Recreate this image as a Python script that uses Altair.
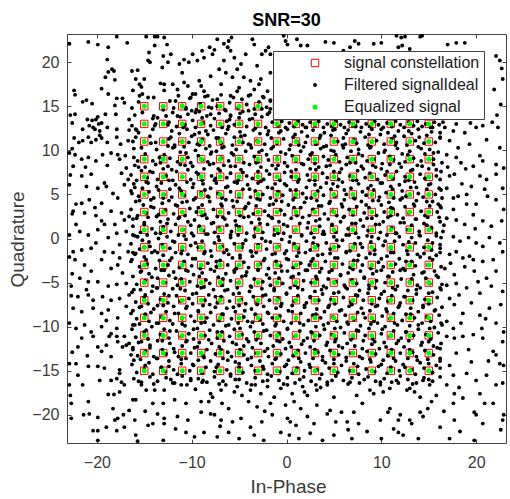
import altair as alt
import pandas as pd

# ---------------- data ----------------
levels = [-15, -13, -11, -9, -7, -5, -3, -1, 1, 3, 5, 7, 9, 11, 13, 15]

series_names = ["\u00a0signal constellation", "Filtered signalIdeal", "Equalized signal"]
series_fill = ["transparent", "#000000", "#00ff00"]
series_stroke = ["#ff0000", "transparent", "transparent"]
series_shape = ["square", "circle", "circle"]
series_size = [55, 15, 26]

x_ticks = [-20, -10, 0, 10, 20]
y_ticks = [-20, -15, -10, -5, 0, 5, 10, 15, 20]

# Filtered signal (black dots), read region by region from the picture
filtered_top_left = [
    (-22.9, 22.1), (-20.9, 22.3), (-19.9, 22.0), (-17.9, 22.9), (-16.8, 22.2), (-14.8, 22.9), (-13.9, 22.9),
    (-13.6, 22.9), (-12.9, 22.8), (-12.6, 22.0), (-18.8, 21.7), (-13.9, 21.9), (-14.5, 21.1), (-13.0, 20.7),
    (-18.9, 20.3), (-14.6, 20.2), (-14.4, 20.0), (-12.5, 20.0), (-18.4, 19.2), (-18.8, 18.9), (-18.2, 19.0),
    (-18.1, 18.0), (-19.1, 18.3), (-16.3, 19.0), (-15.7, 19.1), (-15.0, 18.1), (-15.9, 18.1), (-13.1, 19.4),
    (-12.9, 17.5), (-13.3, 17.6), (-22.4, 16.8), (-22.3, 16.3), (-19.5, 17.0), (-18.8, 16.4), (-17.9, 15.9),
    (-17.3, 15.9), (-16.2, 16.8), (-15.5, 17.5), (-15.3, 17.2), (-15.5, 16.2), (-15.6, 15.5), (-15.2, 16.4),
    (-14.6, 16.0), (-14.0, 16.0), (-12.9, 16.8), (-21.5, 15.5), (-21.1, 15.7), (-20.5, 15.3), (-18.1, 15.1),
    (-17.1, 15.4), (-16.3, 14.8), (-22.3, 14.1), (-21.0, 13.5), (-20.5, 13.4), (-20.1, 13.5), (-19.9, 13.8),
    (-19.5, 13.1), (-19.1, 14.1), (-18.0, 14.1), (-16.6, 13.5), (-16.0, 14.0), (-14.0, 13.9), (-13.6, 13.7),
    (-12.7, 13.9), (-22.6, 13.1), (-21.5, 12.4), (-20.8, 12.8), (-20.4, 12.6), (-20.2, 12.4), (-19.8, 13.0),
    (-19.7, 12.2), (-18.9, 12.6), (-17.9, 12.4), (-16.6, 12.3), (-15.9, 12.4), (-15.6, 12.0), (-16.3, 12.8),
    (-14.1, 12.4), (-13.8, 13.0), (-12.5, 12.9), (-22.4, 11.4), (-21.9, 10.9), (-21.5, 11.1), (-20.9, 11.5),
    (-20.6, 10.9), (-20.1, 11.2), (-19.7, 11.7), (-19.5, 11.4), (-18.9, 10.9), (-17.9, 11.5), (-17.5, 10.7),
    (-16.7, 11.1), (-16.2, 11.0), (-15.9, 11.5), (-15.3, 10.3), (-13.8, 10.9), (-13.7, 10.1), (-12.5, 10.5),
    (-22.6, 10.2), (-22.9, 9.7), (-22.3, 9.5), (-21.6, 9.0), (-20.9, 9.2), (-20.1, 8.8), (-19.4, 9.5),
    (-18.5, 9.7), (-17.8, 9.5), (-17.6, 9.0), (-17.0, 9.4), (-16.1, 9.2), (-15.7, 8.8), (-14.1, 8.8),
    (-13.4, 9.2), (-22.8, 14.0), (-22.5, 8.2), (-21.2, 8.1), (-18.9, 8.3), (-16.9, 8.0),
]

filtered_top = [
    (-5.8, 22.8), (-6.1, 22.4), (-6.6, 22.1), (-7.3, 22.6), (-8.1, 21.7), (-8.9, 21.3), (-9.9, 20.9),
    (-10.8, 20.3), (-12.2, 20.9), (-11.3, 19.8), (-10.3, 20.0), (-9.4, 20.2), (-8.7, 20.5), (-7.8, 20.9),
    (-7.6, 21.4), (-6.2, 21.7), (-5.9, 21.3), (-6.6, 20.2), (-5.5, 20.5), (-4.8, 19.8), (-4.3, 20.9),
    (-3.6, 22.6), (-3.4, 22.0), (-2.2, 21.3), (-2.6, 20.9), (-1.9, 21.7), (-1.7, 20.9), (-0.3, 23.0),
    (-0.1, 22.4), (0.1, 22.0), (1.1, 22.6), (1.5, 21.9), (2.2, 21.9), (4.1, 22.3), (5.0, 22.2),
    (-11.0, 18.8), (-10.8, 17.7), (-10.4, 17.3), (-9.2, 17.9), (-9.0, 17.3), (-8.7, 16.7), (-8.0, 18.4),
    (-7.1, 19.2), (-6.9, 17.5), (-6.4, 18.8), (-5.7, 18.3), (-5.2, 16.7), (-5.0, 17.1), (-4.5, 18.3),
    (-3.8, 17.9), (-3.4, 16.9), (-2.9, 17.5), (-2.7, 18.1), (-2.0, 16.7), (-1.7, 18.8), (-3.1, 19.6),
    (-5.2, 19.2), (-11.5, 16.9), (-12.0, 17.5), (-10.1, 16.0), (-9.6, 16.4), (-8.3, 16.2), (-7.3, 15.8),
    (-5.9, 16.2), (-4.0, 16.2), (-2.4, 16.0), (-1.7, 15.6), (-11.7, 15.6), (-10.6, 14.8), (-9.6, 14.3),
    (-8.0, 14.1), (-6.4, 14.5), (-5.9, 13.9), (-4.0, 14.5), (-2.0, 14.1), (-1.7, 14.7),
]

filtered_top_right = [
    (7.2, 22.4), (7.6, 22.1), (9.2, 22.1), (10.0, 22.2), (11.6, 23.0), (12.1, 22.8), (12.5, 22.9),
    (14.1, 22.9), (14.3, 23.0), (11.8, 21.7), (12.2, 21.9), (13.0, 21.5), (17.0, 22.0), (17.9, 22.2),
    (18.8, 22.2), (22.1, 20.7), (22.5, 20.2), (6.7, 21.7), (6.0, 21.3), (22.8, 18.1), (21.9, 16.9),
    (22.6, 15.2), (22.2, 14.0), (22.7, 19.3), (16.7, 12.6), (17.6, 12.2), (17.9, 13.0), (18.8, 12.0),
    (20.0, 12.6), (20.7, 12.8), (22.3, 12.6), (16.2, 11.4), (17.2, 11.1), (18.1, 10.3), (19.3, 10.7),
    (21.1, 11.2), (22.5, 10.3), (16.9, 9.5), (17.9, 9.2), (18.4, 8.6), (19.7, 8.2), (20.4, 9.4),
    (20.7, 8.8), (22.1, 8.4), (22.9, 8.0), (21.7, 13.2), (19.4, 13.1), (16.5, 13.2),
]

filtered_right = [
    (16.2, 6.7), (17.2, 7.1), (17.7, 7.3), (16.9, 5.7), (17.6, 4.6), (18.1, 4.8), (19.0, 5.0),
    (19.5, 5.9), (20.4, 7.1), (21.1, 6.7), (22.1, 7.3), (22.8, 5.7), (22.1, 4.4), (21.2, 4.8),
    (20.0, 3.9), (19.0, 3.9), (17.6, 3.3), (16.2, 3.7), (16.9, 2.3), (17.9, 2.1), (18.8, 1.6),
    (19.7, 2.7), (20.7, 2.0), (21.6, 1.4), (22.7, 2.0), (22.9, 3.3), (16.5, 0.8), (17.6, 0.2),
    (18.3, -0.3), (19.2, 0.1), (20.0, -0.5), (20.7, -0.9), (21.4, 0.1), (22.5, -0.5), (16.2, -1.1),
    (17.2, -1.8), (17.9, -1.5), (18.6, -2.2), (19.3, -2.0), (19.7, -2.4), (20.7, -2.6), (21.8, -2.4),
    (22.8, -1.5), (16.7, -3.4), (17.7, -4.1), (18.8, -3.2), (19.8, -3.7), (21.1, -4.5), (22.1, -3.7),
    (16.9, -5.3), (17.9, -5.1), (19.0, -5.6), (20.4, -6.2), (21.6, -5.4), (22.8, -6.0), (17.2, -6.8),
    (17.7, -7.5), (18.6, -8.5), (19.5, -7.3), (20.4, -8.7), (21.4, -7.9), (22.6, -7.5), (16.9, -9.4),
    (17.6, -10.2), (18.4, -9.6), (19.7, -10.9), (20.6, -10.2), (22.1, -9.6), (22.9, -10.6), (18.5, 6.2),
    (20.9, 5.6), (16.6, 1.5), (19.9, 1.1), (17.3, -2.8), (20.2, -4.9), (18.2, -6.4), (16.4, -7.8),
    (21.0, -9.1), (18.9, 7.9), (17.0, 8.1),
]

filtered_left = [
    (-22.9, 6.1), (-21.6, 7.1), (-20.6, 7.3), (-21.1, 5.9), (-19.9, 5.7), (-19.2, 6.3), (-19.0, 5.9),
    (-17.8, 4.6), (-16.7, 6.7), (-17.1, 6.1), (-16.4, 5.4), (-22.2, 3.9), (-21.6, 4.0), (-20.8, 4.4),
    (-20.2, 3.5), (-19.5, 4.0), (-18.5, 3.1), (-17.4, 2.9), (-22.5, 3.1), (-21.3, 2.9), (-19.5, 2.0),
    (-19.2, 1.6), (-18.1, 1.6), (-17.1, 2.1), (-16.6, 2.5), (-22.2, 1.6), (-21.8, 0.8), (-20.9, 0.4),
    (-19.9, 1.0), (-18.8, 0.1), (-17.9, 0.6), (-16.9, 0.8), (-16.2, 0.4), (-22.9, 0.4), (-22.5, -1.5),
    (-21.6, -1.3), (-20.6, -1.1), (-20.1, -0.5), (-19.2, -1.5), (-18.3, -1.6), (-17.6, -0.7), (-16.7, -1.5),
    (-16.2, -1.6), (-22.3, -2.4), (-21.3, -3.0), (-20.6, -3.7), (-19.5, -2.4), (-18.5, -3.4), (-17.8, -3.0),
    (-17.3, -3.9), (-16.4, -2.6), (-21.8, -4.5), (-20.9, -4.9), (-19.9, -4.9), (-18.8, -5.4), (-17.9, -5.2),
    (-16.9, -5.1), (-22.7, -5.4), (-22.0, -6.6), (-20.9, -6.4), (-20.4, -7.0), (-19.4, -6.6), (-18.5, -7.0),
    (-17.6, -6.8), (-16.6, -6.4), (-22.5, -7.9), (-21.6, -8.3), (-20.4, -7.9), (-19.5, -8.5), (-18.8, -8.1),
    (-17.8, -9.0), (-16.9, -7.7), (-16.4, -8.5), (-22.9, -9.6), (-22.2, -10.2), (-21.3, -9.8), (-20.6, -10.6),
    (-19.5, -10.0), (-18.5, -10.8), (-17.9, -10.2), (-17.1, -11.1), (-16.2, -9.8), (-22.8, 7.2), (-22.6, 2.8),
    (-22.9, -2.1), (-22.6, -4.0), (-22.7, -6.5), (-18.3, 5.1), (-20.1, 2.6), (-17.6, -2.2), (-21.1, -5.8),
    (-19.0, -9.3), (-17.4, 7.4),
]

filtered_bottom_left = [
    (-21.6, -11.3), (-22.0, -12.3), (-20.4, -11.1), (-19.9, -12.3), (-19.5, -12.8), (-19.0, -12.1),
    (-18.7, -11.1), (-17.9, -11.1), (-17.8, -11.7), (-17.3, -12.3), (-16.9, -12.1), (-16.6, -11.9),
    (-16.2, -12.6), (-16.4, -13.2), (-18.5, -13.4), (-22.9, -14.2), (-22.2, -14.2), (-20.9, -14.5),
    (-19.9, -14.5), (-19.2, -14.7), (-17.6, -14.9), (-17.6, -15.3), (-22.0, -15.5), (-19.7, -16.1),
    (-18.5, -16.1), (-17.9, -15.9), (-17.4, -16.3), (-17.1, -16.6), (-22.9, -16.6), (-21.5, -16.6),
    (-18.8, -17.7), (-18.2, -17.7), (-17.6, -17.4), (-16.2, -18.3), (-15.9, -18.3), (-22.7, -18.7),
    (-20.9, -18.5), (-18.3, -19.3), (-16.6, -19.5), (-15.3, -16.6), (-14.8, -17.2), (-13.9, -17.2),
    (-12.9, -17.2), (-14.1, -18.7), (-13.0, -18.7), (-21.4, -20.0), (-20.8, -19.9), (-22.7, -20.4),
    (-19.9, -20.3), (-18.1, -20.6), (-17.8, -20.4), (-17.2, -20.0), (-16.0, -20.6), (-14.6, -21.2),
    (-14.1, -21.0), (-12.9, -20.4), (-12.9, -21.0), (-20.4, -21.8), (-19.9, -21.8), (-19.0, -21.4),
    (-17.9, -21.8), (-17.1, -21.4), (-15.9, -22.3), (-15.7, -23.0), (-13.0, -22.9), (-19.9, -22.9),
    (-22.8, -17.8), (-22.6, -12.9), (-21.0, -13.3), (-14.9, -19.6), (-13.6, -19.9),
]

filtered_bottom = [
    (-12.0, -16.4), (-11.1, -16.6), (-10.1, -15.9), (-8.9, -16.3), (-8.0, -17.6), (-7.8, -18.0),
    (-8.2, -18.5), (-6.9, -17.2), (-6.4, -16.6), (-5.5, -17.4), (-5.2, -16.8), (-4.7, -17.8),
    (-3.8, -17.2), (-3.3, -16.6), (-2.7, -17.6), (-2.0, -16.8), (-1.3, -18.0), (-0.6, -17.0),
    (0.1, -16.6), (0.6, -17.6), (1.7, -16.8), (2.2, -17.8), (3.2, -17.2), (4.3, -16.6), (5.0, -18.0),
    (-11.8, -18.3), (-10.6, -18.7), (-9.0, -18.5), (-6.8, -18.7), (-6.1, -19.3), (-4.0, -18.5),
    (-3.1, -19.1), (-1.7, -18.7), (-0.1, -18.9), (0.8, -18.5), (1.5, -19.3), (3.2, -18.9), (4.6, -19.5),
    (-11.5, -20.2), (-10.4, -20.6), (-9.0, -19.7), (-8.0, -19.9), (-7.6, -20.0), (-6.9, -20.6),
    (-5.7, -20.8), (-4.8, -20.4), (-3.8, -21.4), (-2.6, -20.8), (-1.5, -20.0), (0.1, -20.4),
    (0.4, -20.8), (1.0, -21.2), (2.2, -20.2), (2.9, -21.0), (4.3, -19.9), (5.2, -20.8), (-11.7, -21.6),
    (-10.6, -22.0), (-9.7, -22.5), (-8.7, -22.0), (-7.3, -22.5), (-6.1, -22.0), (-5.0, -22.7),
    (-3.4, -22.3), (-2.4, -22.9), (-0.6, -22.0), (0.3, -22.3), (1.3, -22.7), (2.5, -22.1), (3.8, -22.9),
    (5.0, -22.3), (-9.6, -17.1), (-2.3, -19.6), (3.6, -16.9), (-7.0, -21.3), (1.9, -17.4),
]

filtered_bottom_right = [
    (16.9, -11.1), (17.7, -11.3), (18.6, -11.1), (20.7, -11.3), (22.8, -11.7), (16.2, -12.5),
    (17.9, -13.0), (19.2, -12.6), (21.8, -12.8), (22.1, -13.2), (22.5, -14.2), (22.9, -14.4),
    (16.2, -14.7), (17.2, -14.4), (17.6, -15.5), (19.0, -15.3), (20.0, -16.1), (21.1, -15.5),
    (22.1, -16.6), (22.8, -16.4), (16.9, -16.6), (17.7, -17.6), (17.6, -18.7), (18.6, -18.1),
    (19.8, -19.7), (20.0, -20.0), (20.7, -21.0), (20.9, -18.7), (21.8, -18.7), (22.8, -20.6),
    (22.6, -21.7), (18.3, -21.9), (19.8, -22.9), (17.2, -22.7), (16.2, -21.4), (14.4, -20.2),
    (14.9, -19.3), (14.1, -19.7), (13.2, -21.0), (13.9, -22.7), (12.3, -22.3), (11.8, -22.0),
    (11.3, -21.6), (11.8, -20.6), (12.0, -20.0), (13.0, -20.6), (10.7, -19.7), (10.9, -19.3),
    (9.9, -20.6), (8.5, -21.9), (7.6, -21.0), (6.5, -21.7), (6.9, -22.7), (10.0, -22.7),
    (7.1, -19.7), (6.4, -20.8), (5.8, -19.7), (7.4, -17.8), (8.0, -18.7), (8.8, -17.2),
    (9.2, -17.6), (10.2, -17.4), (10.9, -17.0), (11.8, -16.4), (12.7, -17.2), (13.0, -17.0),
    (13.5, -17.4), (14.1, -18.0), (15.3, -18.5), (15.8, -17.8), (6.7, -16.3), (9.9, -16.3),
    (14.4, -16.1), (15.1, -16.6), (17.7, -20.6), (20.4, -17.6), (22.9, -20.0), (19.5, -14.0),
    (21.3, -13.9), (18.2, -16.9), (16.6, -19.6),
]

# Filtered signal inside the constellation area, band by band
filtered_inner_upper = [
    (-12.3, 15.6), (-11.9, 14.8), (-11.4, 16.2), (-11.0, 15.1), (-10.6, 14.7), (-10.2, 15.9), (-9.9, 16.4),
    (-9.5, 14.6), (-9.1, 15.3), (-8.6, 16.1), (-8.2, 14.9), (-7.8, 15.7), (-7.3, 15.0), (-6.9, 16.3),
    (-6.5, 14.6), (-6.0, 15.4), (-5.6, 16.0), (-5.1, 14.8), (-4.7, 15.8), (-4.2, 15.2), (-3.8, 16.3),
    (-3.4, 14.7), (-2.9, 15.5), (-2.5, 16.1), (-2.1, 14.9), (-1.7, 15.7),
    (-12.4, 13.2), (-12.0, 14.3), (-11.6, 12.7), (-11.2, 13.8), (-10.7, 12.9), (-10.4, 14.1), (-9.9, 13.4),
    (-9.6, 12.6), (-9.2, 14.4), (-8.8, 13.1), (-8.4, 13.9), (-8.0, 12.8), (-7.6, 13.6), (-7.1, 14.2),
    (-6.8, 12.6), (-6.3, 13.3), (-5.9, 14.0), (-5.5, 12.9), (-5.0, 13.7), (-4.6, 14.4), (-4.2, 12.7),
    (-3.9, 13.5), (-3.3, 14.1), (-3.0, 12.9), (-2.6, 13.8), (-2.2, 12.6), (-1.8, 14.3), (-1.5, 13.2),
    (-0.9, 12.8), (-0.5, 13.3), (-0.1, 12.6), (0.3, 13.1), (0.8, 12.7), (1.2, 13.3), (1.7, 12.9),
    (2.1, 12.6), (2.5, 13.2), (3.0, 12.8), (3.4, 13.3), (3.9, 12.6), (4.3, 13.0), (4.8, 12.7),
    (5.2, 13.3), (5.7, 12.9), (6.1, 12.6), (6.6, 13.2), (7.0, 12.8), (7.5, 13.3), (7.9, 12.6),
    (8.4, 13.0), (8.8, 12.7), (9.3, 13.3), (9.7, 12.9), (10.2, 12.6), (10.6, 13.1), (11.1, 12.7),
    (11.5, 13.3), (12.0, 12.9), (12.4, 12.6), (12.9, 13.2), (13.4, 12.8), (13.8, 13.3), (14.3, 12.7),
    (14.7, 13.0), (15.2, 12.6), (15.6, 13.2), (16.1, 12.9),
    (-12.4, 11.3), (-12.1, 12.2), (-11.8, 10.6), (-11.3, 11.9), (-11.1, 11.0), (-10.5, 12.4), (-10.3, 10.9),
    (-10.0, 11.6), (-9.4, 10.7), (-9.2, 12.0), (-8.9, 11.2), (-8.3, 11.8), (-8.1, 10.5), (-7.7, 12.3),
    (-7.2, 11.4), (-6.9, 10.8), (-6.4, 11.9), (-6.2, 12.4), (-5.7, 10.6), (-5.5, 11.5), (-4.9, 12.1),
    (-4.6, 10.9), (-4.4, 11.7), (-3.8, 10.6), (-3.5, 12.3), (-3.1, 11.1), (-2.8, 11.9), (-2.3, 10.7),
    (-1.9, 12.2), (-1.6, 11.4), (-1.0, 10.8), (-0.8, 12.0), (-0.3, 11.3), (0.1, 12.4), (0.4, 10.6),
    (0.9, 11.8), (1.1, 11.0), (1.6, 12.1), (2.0, 10.9), (2.2, 11.6), (2.8, 12.3), (3.1, 10.7),
    (3.5, 11.4), (4.0, 12.0), (4.2, 10.5), (4.7, 11.7), (5.1, 12.4), (5.4, 11.0), (5.9, 10.6),
    (6.3, 11.9), (6.5, 12.3), (7.1, 11.2), (7.4, 10.8), (7.8, 12.1), (8.3, 11.5), (8.6, 10.6),
    (9.0, 12.4), (9.5, 11.1), (9.9, 11.8), (10.3, 10.7), (10.7, 12.0), (11.1, 11.3), (11.6, 10.9),
    (11.8, 12.2), (12.4, 11.6), (12.7, 10.6), (13.2, 11.9), (13.6, 11.1), (13.9, 12.4), (14.5, 10.8),
    (14.8, 11.7), (15.3, 12.1), (15.7, 10.9), (16.2, 11.5),
    (-12.3, 9.1), (-12.0, 10.3), (-11.5, 8.7), (-11.2, 9.8), (-10.8, 10.4), (-10.4, 9.2), (-10.1, 8.6),
    (-9.6, 10.0), (-9.3, 9.4), (-8.9, 8.9), (-8.5, 10.2), (-8.0, 9.6), (-7.7, 8.5), (-7.4, 9.9),
    (-6.9, 9.1), (-6.6, 10.4), (-6.1, 8.8), (-5.8, 9.7), (-5.3, 10.1), (-5.0, 9.0), (-4.5, 8.6),
    (-4.3, 9.9), (-3.7, 10.3), (-3.4, 9.3), (-3.0, 8.7), (-2.6, 10.0), (-2.1, 9.5), (-1.9, 8.9),
    (-1.4, 10.4), (-1.0, 9.1), (-0.6, 9.8), (-0.2, 8.6), (0.3, 10.1), (0.6, 9.4), (1.0, 8.8),
    (1.5, 9.9), (1.8, 10.4), (2.3, 9.0), (2.7, 9.7), (3.0, 8.5), (3.6, 10.2), (3.9, 9.3),
    (4.4, 8.9), (4.7, 10.0), (5.2, 9.5), (5.6, 8.7), (6.0, 10.3), (6.4, 9.2), (6.8, 9.9),
    (7.3, 8.6), (7.6, 10.1), (8.0, 9.4), (8.5, 8.8), (8.9, 10.4), (9.2, 9.0), (9.7, 9.7),
    (10.1, 8.5), (10.4, 10.0), (10.9, 9.3), (11.3, 8.9), (11.7, 10.2), (12.2, 9.6), (12.5, 8.7),
    (13.0, 9.9), (13.4, 9.1), (13.9, 10.4), (14.2, 8.8), (14.6, 9.6), (15.1, 10.1), (15.5, 9.0),
    (16.0, 9.8), (16.4, 8.6),
]

filtered_inner_middle = [
    (-16.4, 7.2), (-16.0, 8.3), (-15.8, 6.6), (-15.3, 7.7), (-14.9, 8.1), (-14.7, 6.9), (-14.1, 7.5),
    (-13.8, 8.4), (-13.6, 6.7), (-13.0, 7.9), (-12.7, 7.1), (-12.5, 8.2), (-12.0, 6.6), (-11.6, 7.6),
    (-11.2, 8.4), (-11.0, 7.0), (-10.4, 7.8), (-10.1, 6.7), (-9.9, 8.2), (-9.3, 7.3), (-8.9, 6.6),
    (-8.7, 7.9), (-8.1, 8.4), (-7.9, 7.1), (-7.5, 6.8), (-7.0, 7.7), (-6.6, 8.3), (-6.3, 6.9),
    (-5.9, 7.4), (-5.4, 8.2), (-5.1, 6.6), (-4.8, 7.8), (-4.2, 7.1), (-3.9, 8.4), (-3.6, 6.8),
    (-3.0, 7.6), (-2.7, 8.1), (-2.4, 6.7), (-1.8, 7.3), (-1.5, 8.3), (-1.1, 7.9), (-0.7, 6.6),
    (-0.2, 7.5), (0.1, 8.2), (0.5, 7.0), (1.0, 7.8), (1.3, 6.7), (1.8, 8.4), (2.2, 7.2),
    (2.5, 7.9), (3.0, 6.6), (3.4, 8.1), (3.8, 7.4), (4.3, 6.9), (4.6, 8.3), (5.0, 7.6),
    (5.5, 6.7), (5.8, 7.9), (6.3, 8.4), (6.7, 7.1), (7.0, 6.6), (7.5, 7.7), (7.9, 8.2),
    (8.3, 6.9), (8.8, 7.4), (9.1, 8.3), (9.6, 6.7), (10.0, 7.9), (10.4, 7.2), (10.9, 8.4),
    (11.2, 6.8), (11.6, 7.6), (12.1, 8.1), (12.5, 7.0), (12.9, 6.6), (13.3, 7.8), (13.8, 8.3),
    (14.1, 7.3), (14.6, 6.8), (15.0, 7.9), (15.5, 8.4), (15.8, 7.1), (16.3, 7.6),
    (-16.3, 5.1), (-16.1, 6.2), (-15.6, 4.8), (-15.2, 5.7), (-14.8, 6.4), (-14.5, 5.3), (-14.0, 4.6),
    (-13.7, 5.9), (-13.2, 6.3), (-12.9, 5.0), (-12.3, 5.6), (-12.1, 4.7), (-11.7, 6.1), (-11.1, 5.4),
    (-10.8, 4.9), (-10.5, 6.4), (-9.9, 5.8), (-9.6, 4.6), (-9.0, 5.2), (-8.8, 6.2), (-8.3, 4.8),
    (-8.0, 5.7), (-7.4, 6.3), (-7.2, 5.1), (-6.8, 4.6), (-6.2, 5.9), (-5.9, 5.3), (-5.5, 6.4),
    (-5.0, 4.8), (-4.6, 5.6), (-4.1, 6.1), (-3.8, 4.7), (-3.3, 5.4), (-3.0, 6.3), (-2.5, 5.0),
    (-2.0, 5.8), (-1.7, 4.6), (-1.2, 6.2), (-0.9, 5.3), (-0.4, 4.9), (0.0, 6.0), (0.4, 5.5),
    (0.9, 4.7), (1.2, 6.4), (1.7, 5.1), (2.1, 5.8), (2.6, 4.6), (3.0, 6.1), (3.3, 5.4),
    (3.9, 4.9), (4.2, 6.3), (4.7, 5.6), (5.1, 4.8), (5.4, 5.9), (5.9, 6.4), (6.3, 5.0),
    (6.8, 5.7), (7.1, 4.6), (7.6, 6.2), (8.0, 5.3), (8.4, 4.9), (8.9, 6.0), (9.2, 5.5),
    (9.8, 4.7), (10.1, 6.3), (10.5, 5.2), (11.0, 5.9), (11.3, 4.6), (11.9, 6.1), (12.2, 5.4),
    (12.6, 4.8), (13.1, 5.8), (13.5, 6.4), (13.9, 5.1), (14.4, 4.7), (14.8, 5.6), (15.2, 6.2),
    (15.7, 5.0), (16.1, 5.7), (16.4, 4.6),
    (-16.4, 3.3), (-15.9, 4.2), (-15.7, 2.6), (-15.1, 3.8), (-14.8, 2.9), (-14.3, 4.4), (-14.0, 3.5),
    (-13.5, 2.7), (-13.1, 4.0), (-12.8, 3.2), (-12.4, 4.3), (-11.9, 2.8), (-11.5, 3.7), (-11.0, 4.1),
    (-10.7, 2.6), (-10.2, 3.4), (-9.8, 4.4), (-9.5, 3.0), (-8.9, 3.8), (-8.6, 2.7), (-8.1, 4.2),
    (-7.7, 3.3), (-7.3, 2.5), (-6.9, 3.9), (-6.4, 4.4), (-6.1, 2.9), (-5.6, 3.6), (-5.2, 4.2),
    (-4.9, 2.6), (-4.4, 3.4), (-4.0, 4.0), (-3.5, 2.8), (-3.2, 3.7), (-2.8, 4.4), (-2.3, 3.1),
    (-1.9, 2.6), (-1.4, 3.9), (-1.1, 4.3), (-0.6, 3.2), (-0.2, 2.7), (0.2, 3.8), (0.7, 4.4),
    (1.0, 2.9), (1.5, 3.5), (1.9, 4.1), (2.4, 2.6), (2.8, 3.3), (3.2, 4.3), (3.7, 3.7),
    (4.0, 2.8), (4.5, 4.0), (4.9, 3.1), (5.3, 2.6), (5.8, 3.9), (6.1, 4.4), (6.6, 3.3),
    (7.0, 2.7), (7.4, 3.6), (7.9, 4.2), (8.2, 2.9), (8.7, 3.5), (9.1, 4.3), (9.5, 2.6),
    (10.0, 3.8), (10.3, 3.0), (10.8, 4.1), (11.2, 3.4), (11.7, 2.7), (12.0, 4.4), (12.5, 3.6),
    (12.9, 2.9), (13.4, 3.9), (13.7, 4.3), (14.2, 3.1), (14.6, 2.6), (15.1, 3.7), (15.4, 4.2),
    (15.9, 3.0), (16.3, 3.5),
    (-16.2, 1.4), (-15.8, 2.3), (-15.4, 0.7), (-15.0, 1.8), (-14.6, 2.4), (-14.2, 1.1), (-13.8, 0.6),
    (-13.3, 1.9), (-13.0, 1.3), (-12.5, 2.2), (-12.2, 0.8), (-11.7, 1.6), (-11.3, 2.4), (-10.9, 1.0),
    (-10.4, 1.9), (-10.0, 0.6), (-9.7, 2.1), (-9.2, 1.4), (-8.8, 0.9), (-8.4, 2.3), (-7.9, 1.7),
    (-7.6, 0.7), (-7.1, 1.2), (-6.7, 2.4), (-6.3, 1.5), (-5.8, 0.8), (-5.4, 2.0), (-5.0, 1.3),
    (-4.5, 2.4), (-4.2, 0.6), (-3.7, 1.8), (-3.3, 1.1), (-2.9, 2.2), (-2.5, 0.7), (-2.0, 1.6),
    (-1.6, 2.4), (-1.2, 1.0), (-0.8, 1.9), (-0.3, 0.6), (0.1, 1.4), (0.5, 2.3), (0.9, 0.9),
    (1.4, 1.7), (1.7, 2.4), (2.2, 1.2), (2.6, 0.6), (3.1, 2.0), (3.5, 1.4), (3.9, 0.8),
    (4.4, 2.2), (4.8, 1.6), (5.2, 0.7), (5.7, 1.9), (6.0, 2.4), (6.5, 1.1), (6.9, 1.7),
    (7.3, 0.6), (7.8, 2.1), (8.1, 1.4), (8.6, 0.9), (9.0, 2.3), (9.4, 1.6), (9.9, 0.7),
    (10.2, 1.9), (10.7, 2.4), (11.1, 1.2), (11.5, 0.6), (12.0, 1.8), (12.3, 2.3), (12.8, 1.0),
    (13.2, 1.5), (13.7, 2.2), (14.0, 0.8), (14.5, 1.7), (14.9, 2.4), (15.3, 1.2), (15.8, 0.6),
    (16.2, 1.9),
    (-16.4, -0.6), (-16.0, 0.3), (-15.5, -1.2), (-15.2, -0.2), (-14.7, 0.4), (-14.4, -0.9), (-13.9, -1.4),
    (-13.5, 0.0), (-13.1, -0.7), (-12.6, 0.2), (-12.3, -1.1), (-11.8, -0.4), (-11.4, 0.4), (-11.0, -1.3),
    (-10.6, -0.1), (-10.1, -0.8), (-9.8, 0.3), (-9.3, -1.0), (-8.9, -0.3), (-8.5, 0.5), (-8.0, -1.4),
    (-7.6, -0.5), (-7.2, 0.2), (-6.8, -0.9), (-6.3, -1.3), (-5.9, 0.1), (-5.5, -0.6), (-5.1, 0.4),
    (-4.7, -1.0), (-4.3, -0.2), (-3.8, -1.4), (-3.4, 0.3), (-3.0, -0.7), (-2.6, 0.0), (-2.1, -1.2),
    (-1.7, -0.4), (-1.3, 0.4), (-0.9, -0.9), (-0.5, -0.1), (0.0, -1.4), (0.4, 0.2), (0.8, -0.6),
    (1.2, -1.1), (1.6, 0.4), (2.1, -0.3), (2.5, -1.3), (2.9, 0.1), (3.3, -0.8), (3.8, 0.5),
    (4.2, -0.5), (4.6, -1.2), (5.0, 0.2), (5.5, -0.9), (5.9, -0.2), (6.3, 0.4), (6.7, -1.4),
    (7.2, -0.6), (7.6, 0.1), (8.0, -1.0), (8.5, 0.3), (8.9, -0.4), (9.3, -1.3), (9.7, 0.0),
    (10.2, -0.8), (10.6, 0.4), (11.0, -1.1), (11.4, -0.3), (11.9, 0.2), (12.3, -0.7), (12.7, -1.4),
    (13.2, 0.1), (13.6, -0.5), (14.0, 0.4), (14.5, -1.0), (14.9, -0.2), (15.3, -1.3), (15.8, 0.3),
    (16.2, -0.7),
    (-16.3, -2.4), (-15.9, -1.7), (-15.5, -3.2), (-15.0, -2.1), (-14.7, -2.9), (-14.2, -1.6), (-13.8, -3.4),
    (-13.4, -2.5), (-13.0, -1.9), (-12.5, -3.0), (-12.1, -2.2), (-11.7, -1.6), (-11.3, -3.3), (-10.8, -2.6),
    (-10.4, -1.8), (-10.0, -3.1), (-9.6, -2.3), (-9.1, -3.4), (-8.7, -1.7), (-8.3, -2.8), (-7.9, -2.0),
    (-7.4, -3.2), (-7.0, -2.5), (-6.6, -1.6), (-6.2, -3.0), (-5.7, -2.2), (-5.3, -3.4), (-4.9, -1.9),
    (-4.5, -2.7), (-4.0, -3.3), (-3.6, -2.0), (-3.2, -1.6), (-2.8, -2.9), (-2.3, -2.3), (-1.9, -3.4),
    (-1.5, -1.8), (-1.1, -2.6), (-0.6, -3.1), (-0.2, -1.7), (0.2, -2.4), (0.7, -3.3), (1.1, -2.0),
    (1.5, -2.8), (2.0, -1.6), (2.4, -3.0), (2.8, -2.3), (3.3, -1.9), (3.7, -3.4), (4.1, -2.6),
    (4.6, -1.7), (5.0, -3.1), (5.4, -2.2), (5.9, -2.9), (6.3, -1.6), (6.7, -3.3), (7.1, -2.5),
    (7.6, -1.9), (8.0, -3.0), (8.4, -2.2), (8.9, -3.4), (9.3, -1.8), (9.7, -2.7), (10.2, -3.2),
    (10.6, -2.0), (11.0, -1.6), (11.5, -2.9), (11.9, -2.3), (12.3, -3.4), (12.8, -1.8), (13.2, -2.6),
    (13.6, -3.1), (14.1, -2.1), (14.5, -1.7), (14.9, -3.0), (15.4, -2.4), (15.8, -1.9), (16.3, -3.2),
    (-16.2, -4.3), (-15.8, -5.2), (-15.3, -3.7), (-14.9, -4.8), (-14.5, -4.0), (-14.1, -5.4), (-13.6, -4.5),
    (-13.2, -3.6), (-12.8, -5.0), (-12.4, -4.2), (-11.9, -3.8), (-11.5, -5.3), (-11.1, -4.6), (-10.6, -3.6),
    (-10.2, -4.9), (-9.8, -4.1), (-9.4, -5.4), (-8.9, -3.9), (-8.5, -4.7), (-8.1, -5.1), (-7.6, -3.7),
    (-7.2, -4.4), (-6.8, -5.3), (-6.4, -4.0), (-5.9, -4.8), (-5.5, -3.6), (-5.1, -5.0), (-4.7, -4.3),
    (-4.2, -3.8), (-3.8, -5.4), (-3.4, -4.6), (-3.0, -3.6), (-2.5, -4.9), (-2.1, -4.1), (-1.7, -5.3),
    (-1.2, -3.9), (-0.8, -4.5), (-0.4, -5.1), (0.1, -3.7), (0.5, -4.4), (0.9, -5.3), (1.3, -4.0),
    (1.8, -4.8), (2.2, -3.6), (2.6, -5.0), (3.1, -4.3), (3.5, -3.8), (3.9, -5.4), (4.4, -4.6),
    (4.8, -3.6), (5.2, -4.9), (5.7, -4.1), (6.1, -5.3), (6.5, -3.9), (6.9, -4.7), (7.4, -5.1),
    (7.8, -3.7), (8.2, -4.4), (8.7, -5.3), (9.1, -4.0), (9.5, -4.8), (10.0, -3.6), (10.4, -5.0),
    (10.8, -4.3), (11.2, -3.8), (11.7, -5.4), (12.1, -4.6), (12.5, -3.6), (13.0, -4.9), (13.4, -4.1),
    (13.8, -5.3), (14.3, -3.9), (14.7, -4.5), (15.1, -5.1), (15.6, -3.7), (16.0, -4.4), (16.4, -5.2),
    (-16.3, -6.1), (-15.9, -7.2), (-15.4, -5.8), (-15.0, -6.7), (-14.6, -7.4), (-14.2, -6.0), (-13.7, -5.6),
    (-13.3, -6.9), (-12.9, -6.3), (-12.5, -7.3), (-12.0, -5.7), (-11.6, -6.5), (-11.2, -7.1), (-10.7, -5.9),
    (-10.3, -6.8), (-9.9, -7.4), (-9.5, -6.2), (-9.0, -5.6), (-8.6, -7.0), (-8.2, -6.4), (-7.7, -5.8),
    (-7.3, -7.3), (-6.9, -6.6), (-6.5, -5.9), (-6.0, -7.1), (-5.6, -6.3), (-5.2, -5.6), (-4.8, -6.9),
    (-4.3, -7.4), (-3.9, -6.0), (-3.5, -6.6), (-3.1, -7.2), (-2.6, -5.7), (-2.2, -6.4), (-1.8, -7.0),
    (-1.3, -5.9), (-0.9, -6.8), (-0.5, -7.4), (0.0, -6.2), (0.4, -5.6), (0.8, -7.1), (1.2, -6.5),
    (1.7, -5.8), (2.1, -7.3), (2.5, -6.7), (3.0, -6.0), (3.4, -7.0), (3.8, -6.3), (4.2, -5.6),
    (4.7, -6.9), (5.1, -7.4), (5.5, -6.1), (6.0, -6.7), (6.4, -5.7), (6.8, -7.2), (7.3, -6.4),
    (7.7, -5.9), (8.1, -7.0), (8.6, -6.2), (9.0, -7.4), (9.4, -5.6), (9.8, -6.8), (10.3, -6.0),
    (10.7, -7.1), (11.1, -6.5), (11.5, -5.8), (12.0, -7.3), (12.4, -6.6), (12.8, -5.9), (13.3, -7.0),
    (13.7, -6.3), (14.1, -5.6), (14.6, -6.9), (15.0, -7.4), (15.4, -6.1), (15.9, -6.7), (16.3, -5.8),
]

filtered_inner_lower = [
    (-16.2, -8.2), (-15.8, -9.1), (-15.3, -7.7), (-14.9, -8.6), (-14.5, -9.4), (-14.0, -8.0), (-13.6, -7.6),
    (-13.2, -8.9), (-12.7, -8.3), (-12.3, -9.3), (-11.9, -7.7), (-11.4, -8.5), (-11.0, -9.1), (-10.6, -7.9),
    (-10.1, -8.8), (-9.7, -9.4), (-9.3, -8.2), (-8.8, -7.6), (-8.4, -9.0), (-8.0, -8.4), (-7.5, -7.8),
    (-7.1, -9.3), (-6.7, -8.6), (-6.3, -7.9), (-5.8, -9.1), (-5.4, -8.3), (-5.0, -7.6), (-4.5, -8.9),
    (-4.1, -9.4), (-3.7, -8.0), (-3.3, -8.6), (-2.8, -9.2), (-2.4, -7.7), (-2.0, -8.4), (-1.5, -9.0),
    (-1.1, -7.9), (-0.7, -8.8), (-0.3, -9.4), (0.2, -8.2), (0.6, -7.6), (1.0, -9.1), (1.5, -8.5),
    (1.9, -7.8), (2.3, -9.3), (2.8, -8.7), (3.2, -8.0), (3.6, -9.0), (4.0, -8.3), (4.5, -7.6),
    (4.9, -8.9), (5.3, -9.4), (5.8, -8.1), (6.2, -8.7), (6.6, -7.7), (7.1, -9.2), (7.5, -8.4),
    (7.9, -7.9), (8.3, -9.0), (8.8, -8.2), (9.2, -9.4), (9.6, -7.6), (10.1, -8.8), (10.5, -8.0),
    (10.9, -9.1), (11.3, -8.5), (11.8, -7.8), (12.2, -9.3), (12.6, -8.6), (13.1, -7.9), (13.5, -9.0),
    (13.9, -8.3), (14.4, -7.6), (14.8, -8.9), (15.2, -9.4), (15.7, -8.1), (16.1, -8.7),
    (-16.3, -10.3), (-15.9, -11.2), (-15.5, -9.7), (-15.0, -10.6), (-14.6, -11.4), (-14.2, -10.0),
    (-13.7, -9.6), (-13.3, -10.9), (-12.9, -10.3), (-12.4, -11.3), (-12.0, -9.7), (-11.6, -10.5),
    (-11.1, -11.1), (-10.7, -9.9), (-10.3, -10.8), (-9.8, -11.4), (-9.4, -10.2), (-9.0, -9.6),
    (-8.6, -11.0), (-8.1, -10.4), (-7.7, -9.8), (-7.3, -11.3), (-6.8, -10.6), (-6.4, -9.9),
    (-6.0, -11.1), (-5.5, -10.3), (-5.1, -9.6), (-4.7, -10.9), (-4.2, -11.4), (-3.8, -10.0),
    (-3.4, -10.6), (-3.0, -11.2), (-2.5, -9.7), (-2.1, -10.4), (-1.7, -11.0), (-1.2, -9.9),
    (-0.8, -10.8), (-0.4, -11.4), (0.1, -10.2), (0.5, -9.6), (0.9, -11.1), (1.4, -10.5),
    (1.8, -9.8), (2.2, -11.3), (2.7, -10.7), (3.1, -10.0), (3.5, -11.0), (4.0, -10.3),
    (4.4, -9.6), (4.8, -10.9), (5.2, -11.4), (5.7, -10.1), (6.1, -10.7), (6.5, -9.7),
    (7.0, -11.2), (7.4, -10.4), (7.8, -9.9), (8.3, -11.0), (8.7, -10.2), (9.1, -11.4),
    (9.6, -9.6), (10.0, -10.8), (10.4, -10.0), (10.9, -11.1), (11.3, -10.5), (11.7, -9.8),
    (12.1, -11.3), (12.6, -10.6), (13.0, -9.9), (13.4, -11.0), (13.9, -10.3), (14.3, -9.6),
    (14.7, -10.9), (15.2, -11.4), (15.6, -10.1), (16.0, -10.7), (16.4, -9.8),
    (-16.2, -12.4), (-15.7, -13.3), (-15.3, -11.7), (-14.9, -12.8), (-14.4, -12.1), (-14.0, -13.4),
    (-13.6, -11.6), (-13.1, -12.6), (-12.7, -13.1), (-12.3, -11.9), (-11.8, -12.9), (-11.4, -13.4),
    (-11.0, -12.2), (-10.5, -11.6), (-10.1, -13.0), (-9.7, -12.4), (-9.2, -11.8), (-8.8, -13.3),
    (-8.4, -12.6), (-7.9, -11.9), (-7.5, -13.1), (-7.1, -12.3), (-6.6, -11.6), (-6.2, -12.9),
    (-5.8, -13.4), (-5.3, -12.0), (-4.9, -12.6), (-4.5, -13.2), (-4.0, -11.7), (-3.6, -12.4),
    (-3.2, -13.0), (-2.7, -11.9), (-2.3, -12.8), (-1.9, -13.4), (-1.4, -12.2), (-1.0, -11.6),
    (-0.6, -13.1), (-0.1, -12.5), (0.3, -11.8), (0.7, -13.3), (1.2, -12.7), (1.6, -12.0),
    (2.0, -13.0), (2.5, -12.3), (2.9, -11.6), (3.3, -12.9), (3.8, -13.4), (4.2, -12.1),
    (4.6, -12.7), (5.1, -11.7), (5.5, -13.2), (5.9, -12.4), (6.4, -11.9), (6.8, -13.0),
    (7.2, -12.2), (7.7, -13.4), (8.1, -11.6), (8.5, -12.8), (9.0, -12.0), (9.4, -13.1),
    (9.8, -12.5), (10.3, -11.8), (10.7, -13.3), (11.1, -12.6), (11.6, -11.9), (12.0, -13.0),
    (12.4, -12.3), (12.9, -11.6), (13.3, -12.9), (13.7, -13.4), (14.2, -12.1), (14.6, -12.7),
    (15.0, -11.7), (15.5, -13.2), (15.9, -12.4), (16.3, -11.9),
    (-16.3, -14.3), (-15.8, -15.2), (-15.4, -13.7), (-15.0, -14.8), (-14.5, -14.1), (-14.1, -15.4),
    (-13.7, -13.6), (-13.2, -14.6), (-12.8, -15.1), (-12.4, -13.9), (-11.9, -14.9), (-11.5, -15.4),
    (-11.1, -14.2), (-10.6, -13.6), (-10.2, -15.0), (-9.8, -14.4), (-9.3, -13.8), (-8.9, -15.3),
    (-8.5, -14.6), (-8.0, -13.9), (-7.6, -15.1), (-7.2, -14.3), (-6.7, -13.6), (-6.3, -14.9),
    (-5.9, -15.4), (-5.4, -14.0), (-5.0, -14.6), (-4.6, -15.2), (-4.1, -13.7), (-3.7, -14.4),
    (-3.3, -15.0), (-2.8, -13.9), (-2.4, -14.8), (-2.0, -15.4), (-1.5, -14.2), (-1.1, -13.6),
    (-0.7, -15.1), (-0.2, -14.5), (0.2, -13.8), (0.6, -15.3), (1.1, -14.7), (1.5, -14.0),
    (1.9, -15.0), (2.4, -14.3), (2.8, -13.6), (3.2, -14.9), (3.7, -15.4), (4.1, -14.1),
    (4.5, -14.7), (5.0, -13.7), (5.4, -15.2), (5.8, -14.4), (6.3, -13.9), (6.7, -15.0),
    (7.1, -14.2), (7.6, -15.4), (8.0, -13.6), (8.4, -14.8), (8.9, -14.0), (9.3, -15.1),
    (9.7, -14.5), (10.2, -13.8), (10.6, -15.3), (11.0, -14.6), (11.5, -13.9), (11.9, -15.0),
    (12.3, -14.3), (12.8, -13.6), (13.2, -14.9), (13.6, -15.4), (14.1, -14.1), (14.5, -14.7),
    (14.9, -13.7), (15.4, -15.2), (15.8, -14.4), (16.2, -13.9),
    (-16.1, -15.9), (-15.3, -16.3), (-14.4, -15.7), (-13.6, -16.2), (-12.7, -15.8), (-11.8, -16.4),
    (-11.0, -15.6), (-10.1, -16.1), (-9.3, -15.9), (-8.4, -16.3), (-7.6, -15.7), (-6.7, -16.2),
    (-5.9, -15.6), (-5.0, -16.0), (-4.2, -16.4), (-3.3, -15.8), (-2.5, -16.2), (-1.6, -15.6),
    (-0.8, -16.1), (0.1, -15.8), (0.9, -16.4), (1.8, -15.7), (2.6, -16.2), (3.5, -15.9),
    (4.3, -16.3), (5.2, -15.6), (6.0, -16.1), (6.9, -15.8), (7.7, -16.4), (8.6, -15.7),
    (9.4, -16.2), (10.3, -15.9), (11.1, -16.3), (12.0, -15.6), (12.8, -16.0), (13.7, -16.4),
    (14.5, -15.8), (15.4, -16.2), (16.2, -15.7),
]

# Extra filtered points lying between constellation rows
filtered_inner_between = [
    (-15.2, 14.3), (-14.1, 13.6), (-13.0, 14.6), (-11.5, 13.9), (-10.0, 14.5), (-8.9, 13.7), (-7.9, 14.8),
    (-6.0, 13.5), (-4.9, 14.2), (-3.6, 13.6), (-2.6, 14.7),
    (-15.8, 12.3), (-14.4, 11.6), (-13.9, 12.8), (-12.2, 11.5), (-10.9, 12.6), (-9.7, 11.8), (-8.5, 12.2),
    (-7.4, 11.4), (-6.1, 12.7), (-4.8, 11.6), (-3.3, 12.5), (-2.0, 11.8), (-0.6, 12.2), (0.7, 11.5),
    (2.0, 12.6), (3.6, 11.7), (4.9, 12.3), (6.0, 11.4), (7.3, 12.7), (8.7, 11.8), (10.0, 12.4),
    (11.4, 11.6), (12.9, 12.2), (14.0, 11.5), (15.4, 12.6), (16.2, 12.0),
    (-16.1, 10.2), (-14.9, 9.6), (-14.3, 10.8), (-12.9, 9.5), (-11.8, 10.4), (-10.6, 9.7), (-9.2, 10.6),
    (-7.9, 9.8), (-6.8, 10.3), (-5.6, 9.5), (-4.0, 10.7), (-2.9, 9.8), (-1.6, 10.2), (-0.1, 9.6),
    (1.3, 10.6), (2.5, 9.5), (3.9, 10.4), (5.0, 9.9), (6.2, 10.7), (7.6, 9.6), (8.8, 10.3),
    (10.3, 9.8), (11.5, 10.6), (12.8, 9.5), (14.2, 10.2), (15.5, 9.7),
    (-15.6, 8.1), (-14.4, 7.6), (-13.3, 8.6), (-12.1, 7.8), (-10.7, 8.3), (-9.5, 7.5), (-8.3, 8.7),
    (-7.2, 7.9), (-5.9, 8.2), (-4.6, 7.5), (-3.2, 8.6), (-2.1, 7.7), (-0.9, 8.3), (0.5, 7.6),
    (1.6, 8.5), (3.1, 7.8), (4.2, 8.2), (5.6, 7.5), (6.7, 8.6), (8.1, 7.9), (9.4, 8.1),
    (10.6, 7.6), (11.9, 8.5), (13.1, 7.7), (14.3, 8.2), (15.8, 7.8),
    (-16.0, 5.8), (-14.6, 6.3), (-13.5, 5.5), (-12.4, 6.6), (-11.3, 5.7), (-9.8, 6.2), (-8.6, 5.5),
    (-7.6, 6.6), (-6.4, 5.8), (-5.2, 6.3), (-3.9, 5.6), (-2.7, 6.5), (-1.5, 5.7), (-0.2, 6.2),
    (1.0, 5.5), (2.4, 6.6), (3.6, 5.8), (4.9, 6.2), (6.1, 5.5), (7.4, 6.6), (8.6, 5.7),
    (9.9, 6.3), (11.2, 5.6), (12.5, 6.5), (13.7, 5.8), (15.0, 6.1), (16.3, 5.5),
    (-15.5, 4.3), (-14.3, 3.6), (-13.0, 4.6), (-11.7, 3.8), (-10.5, 4.2), (-9.3, 3.5), (-8.2, 4.7),
    (-6.8, 3.7), (-5.7, 4.3), (-4.3, 3.6), (-3.1, 4.5), (-1.8, 3.8), (-0.5, 4.2), (0.8, 3.5),
    (2.1, 4.6), (3.4, 3.7), (4.6, 4.2), (5.9, 3.6), (7.2, 4.5), (8.4, 3.8), (9.7, 4.3),
    (11.0, 3.5), (12.2, 4.6), (13.5, 3.7), (14.8, 4.2), (16.0, 3.9),
    (-16.2, 2.2), (-15.0, 1.6), (-13.7, 2.5), (-12.6, 1.7), (-11.4, 2.3), (-10.1, 1.5), (-8.9, 2.6),
    (-7.7, 1.8), (-6.5, 2.2), (-5.3, 1.5), (-4.0, 2.5), (-2.8, 1.7), (-1.5, 2.3), (-0.3, 1.6),
    (1.1, 2.6), (2.3, 1.8), (3.5, 2.2), (4.8, 1.5), (6.1, 2.5), (7.3, 1.7), (8.5, 2.3),
    (9.8, 1.6), (11.0, 2.6), (12.4, 1.8), (13.6, 2.2), (14.8, 1.5), (16.1, 2.4),
    (-15.7, 0.2), (-14.5, -0.4), (-13.3, 0.6), (-12.0, -0.3), (-10.8, 0.3), (-9.6, -0.5), (-8.3, 0.5),
    (-7.1, -0.2), (-5.9, 0.4), (-4.6, -0.6), (-3.4, 0.2), (-2.2, -0.3), (-0.9, 0.6), (0.3, -0.4),
    (1.6, 0.3), (2.8, -0.5), (4.0, 0.5), (5.3, -0.2), (6.6, 0.4), (7.8, -0.6), (9.0, 0.2),
    (10.4, -0.3), (11.6, 0.6), (12.9, -0.4), (14.1, 0.3), (15.4, -0.5), (16.3, 0.1),
    (-16.0, -1.8), (-14.8, -2.4), (-13.6, -1.6), (-12.3, -2.5), (-11.1, -1.7), (-9.9, -2.3), (-8.6, -1.5),
    (-7.4, -2.6), (-6.1, -1.8), (-4.9, -2.2), (-3.7, -1.5), (-2.4, -2.5), (-1.2, -1.7), (0.0, -2.3),
    (1.3, -1.6), (2.6, -2.6), (3.8, -1.8), (5.1, -2.2), (6.3, -1.5), (7.5, -2.5), (8.8, -1.7),
    (10.0, -2.3), (11.3, -1.6), (12.6, -2.6), (13.8, -1.8), (15.1, -2.2), (16.2, -1.6),
    (-15.4, -3.8), (-14.2, -4.4), (-12.9, -3.6), (-11.7, -4.5), (-10.4, -3.7), (-9.2, -4.3), (-8.0, -3.5),
    (-6.7, -4.6), (-5.5, -3.8), (-4.3, -4.2), (-3.0, -3.5), (-1.8, -4.5), (-0.5, -3.7), (0.7, -4.3),
    (2.0, -3.6), (3.2, -4.6), (4.5, -3.8), (5.7, -4.2), (7.0, -3.5), (8.2, -4.5), (9.5, -3.7),
    (10.7, -4.3), (12.0, -3.6), (13.2, -4.6), (14.5, -3.8), (15.8, -4.2),
    (-16.1, -5.8), (-14.9, -6.4), (-13.6, -5.6), (-12.4, -6.5), (-11.2, -5.7), (-9.9, -6.3), (-8.7, -5.5),
    (-7.5, -6.6), (-6.2, -5.8), (-5.0, -6.2), (-3.7, -5.5), (-2.5, -6.5), (-1.3, -5.7), (0.0, -6.3),
    (1.2, -5.6), (2.5, -6.6), (3.7, -5.8), (5.0, -6.2), (6.2, -5.5), (7.5, -6.5), (8.7, -5.7),
    (10.0, -6.3), (11.2, -5.6), (12.5, -6.6), (13.7, -5.8), (15.0, -6.2), (16.2, -5.6),
    (-15.5, -7.8), (-14.3, -8.4), (-13.0, -7.6), (-11.8, -8.5), (-10.5, -7.7), (-9.3, -8.3), (-8.1, -7.5),
    (-6.8, -8.6), (-5.6, -7.8), (-4.4, -8.2), (-3.1, -7.5), (-1.9, -8.5), (-0.6, -7.7), (0.6, -8.3),
    (1.9, -7.6), (3.1, -8.6), (4.4, -7.8), (5.6, -8.2), (6.9, -7.5), (8.1, -8.5), (9.4, -7.7),
    (10.6, -8.3), (11.9, -7.6), (13.1, -8.6), (14.4, -7.8), (15.6, -8.2),
    (-16.0, -9.8), (-14.8, -10.4), (-13.5, -9.6), (-12.3, -10.5), (-11.0, -9.7), (-9.8, -10.3), (-8.6, -9.5),
    (-7.3, -10.6), (-6.1, -9.8), (-4.9, -10.2), (-3.6, -9.5), (-2.4, -10.5), (-1.1, -9.7), (0.1, -10.3),
    (1.4, -9.6), (2.6, -10.6), (3.9, -9.8), (5.1, -10.2), (6.4, -9.5), (7.6, -10.5), (8.9, -9.7),
    (10.1, -10.3), (11.4, -9.6), (12.6, -10.6), (13.9, -9.8), (15.1, -10.2), (16.3, -9.6),
    (-15.6, -11.8), (-14.4, -12.4), (-13.1, -11.6), (-11.9, -12.5), (-10.6, -11.7), (-9.4, -12.3),
    (-8.2, -11.5), (-6.9, -12.6), (-5.7, -11.8), (-4.5, -12.2), (-3.2, -11.5), (-2.0, -12.5),
    (-0.7, -11.7), (0.5, -12.3), (1.8, -11.6), (3.0, -12.6), (4.3, -11.8), (5.5, -12.2), (6.8, -11.5),
    (8.0, -12.5), (9.3, -11.7), (10.5, -12.3), (11.8, -11.6), (13.0, -12.6), (14.3, -11.8), (15.5, -12.2),
    (-16.1, -13.8), (-14.9, -14.4), (-13.6, -13.6), (-12.4, -14.5), (-11.1, -13.7), (-9.9, -14.3),
    (-8.7, -13.5), (-7.4, -14.6), (-6.2, -13.8), (-5.0, -14.2), (-3.7, -13.5), (-2.5, -14.5),
    (-1.2, -13.7), (0.0, -14.3), (1.3, -13.6), (2.5, -14.6), (3.8, -13.8), (5.0, -14.2), (6.3, -13.5),
    (7.5, -14.5), (8.8, -13.7), (10.0, -14.3), (11.3, -13.6), (12.5, -14.6), (13.8, -13.8),
    (15.0, -14.2), (16.2, -13.6),
    (-15.6, -16.2), (-14.0, -16.5), (-12.2, -16.0), (-10.5, -16.6), (-8.8, -16.1), (-7.1, -16.5),
    (-5.4, -16.0), (-3.7, -16.6), (-2.0, -16.1), (-0.3, -16.5), (1.4, -16.0), (3.1, -16.6),
    (4.8, -16.1), (6.5, -16.5), (8.2, -16.0), (9.9, -16.6), (11.6, -16.1), (13.3, -16.5), (15.0, -16.0),
]

# ---------------- tables ----------------
ideal_points = pd.DataFrame([(i, q) for q in levels for i in levels], columns=["x", "y"])
constellation_df = ideal_points.assign(series=series_names[0])
equalized_df = ideal_points.assign(series=series_names[2])
filtered_df = pd.DataFrame(
    filtered_top_left + filtered_top + filtered_top_right + filtered_right + filtered_left
    + filtered_bottom_left + filtered_bottom + filtered_bottom_right
    + filtered_inner_upper + filtered_inner_middle + filtered_inner_lower + filtered_inner_between,
    columns=["x", "y"],
).assign(series=series_names[1])

# ---------------- chart ----------------
FONT = "Liberation Sans"
TEXT = "#3a3a3a"
FRAME = "#404040"

xscale = alt.Scale(domain=[-23.15, 23.15], nice=False, zero=False)
yscale = alt.Scale(domain=[-23.2, 23.2], nice=False, zero=False)

legend = alt.Legend(
    title=None, orient="none", legendX=206, legendY=17, direction="vertical",
    fillColor="white", strokeColor=FRAME, padding=4, cornerRadius=0,
    labelFont=FONT, labelFontSize=16, labelColor="#1a1a1a", labelLimit=300,
    symbolOffset=30, labelOffset=21, rowPadding=6, symbolStrokeWidth=1,
)

def style_enc(xaxis, yaxis):
    return dict(
        x=alt.X("x:Q", scale=xscale, axis=xaxis),
        y=alt.Y("y:Q", scale=yscale, axis=yaxis),
        fill=alt.Fill("series:N", scale=alt.Scale(domain=series_names, range=series_fill), legend=legend),
        stroke=alt.Stroke("series:N", scale=alt.Scale(domain=series_names, range=series_stroke), legend=legend),
        shape=alt.Shape("series:N", scale=alt.Scale(domain=series_names, range=series_shape), legend=legend),
        size=alt.Size("series:N", scale=alt.Scale(type="ordinal", domain=series_names, range=series_size),
                      legend=legend),
    )

main_x = alt.Axis(
    orient="bottom", values=x_ticks, offset=-4, tickSize=4, domain=False, grid=False,
    tickColor=FRAME, labelFont=FONT, labelFontSize=16, labelColor=TEXT, labelPadding=11,
    title="In-Phase", titleFont=FONT, titleFontSize=19, titleFontWeight="normal", titleColor=TEXT,
    titleX=221, titleY=47, titleBaseline="middle", titleAlign="center",
)
main_y = alt.Axis(
    orient="left", values=y_ticks, offset=-4, tickSize=4, domain=False, grid=False,
    tickColor=FRAME, labelFont=FONT, labelFontSize=16, labelColor=TEXT, labelPadding=8,
    title="Quadrature", titleFont=FONT, titleFontSize=19, titleFontWeight="normal", titleColor=TEXT,
    titleX=-54, titleY=205, titleAngle=270, titleBaseline="middle", titleAlign="center",
)
top_x = alt.Axis(
    orient="top", values=x_ticks, offset=-4, tickSize=4, domain=False, grid=False,
    tickColor=FRAME, labels=False, title=None,
)
right_y = alt.Axis(
    orient="right", values=y_ticks, offset=-4, tickSize=4, domain=False, grid=False,
    tickColor=FRAME, labels=False, title=None,
)

mark_kw = dict(opacity=1, strokeWidth=1, clip=True)

red = alt.Chart(constellation_df).mark_point(**mark_kw).encode(**style_enc(main_x, main_y))
black = alt.Chart(filtered_df).mark_point(**mark_kw).encode(**style_enc(top_x, right_y))
green = alt.Chart(equalized_df).mark_point(**mark_kw).encode(**style_enc(None, None))

chart = (
    alt.layer(red, black, green)
    .resolve_axis(x="independent", y="independent")
    .properties(
        width=439, height=409,
        padding={"left": 67, "top": 34, "right": 4, "bottom": 56},
        autosize=alt.AutoSizeParams(type="none"),
        title=alt.TitleParams("SNR=30", font=FONT, fontSize=18, fontWeight="bold", color="#000000",
                              anchor="middle", frame="group", offset=4),
    )
    .configure(background="white")
    .configure_view(stroke=FRAME, strokeWidth=1)
)

chart.save("out.html", embed_options={"renderer": "svg", "actions": False})
